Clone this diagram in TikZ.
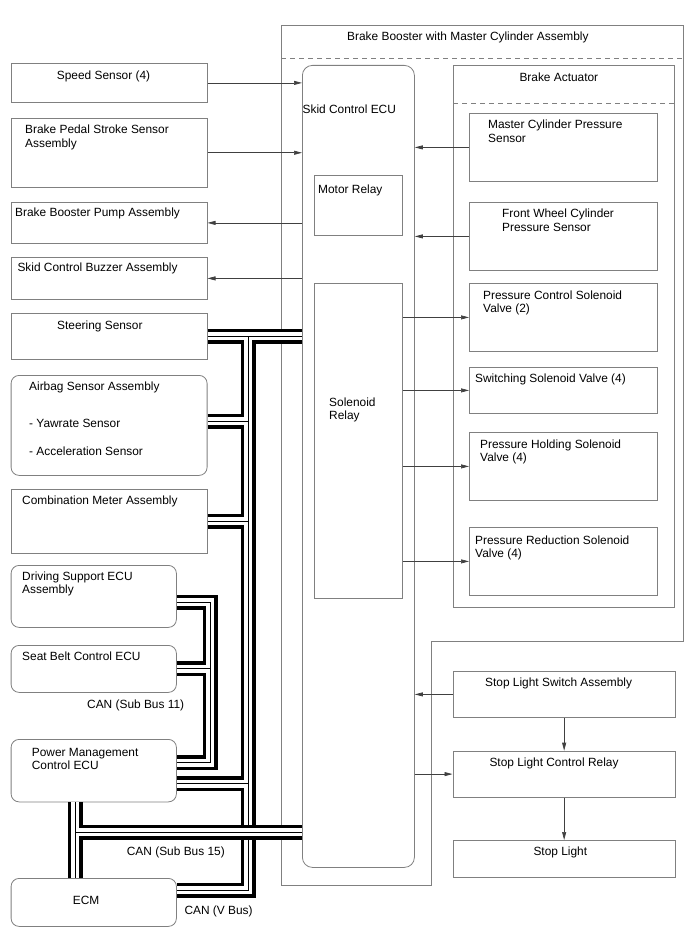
\documentclass[tikz,border=0pt]{standalone}
\usepackage{fontspec}
\setmainfont{Liberation Sans}
\usetikzlibrary{arrows.meta,calc}
\begin{document}
\begin{tikzpicture}[x=1pt,y=-1pt,
  bx/.style={draw=black!50, line width=0.8pt, inner sep=0pt, anchor=north west},
  rbx/.style={bx, rounded corners=8pt},
  txt/.style={inner sep=0pt, anchor=base west, align=left, font=\fontsize{11.9}{13.5}\selectfont},
  txtb/.style={txt, yshift=-13.5pt},
  arr/.style={draw=black!75, line width=0.7pt, -{Triangle[length=8pt,width=4pt]}},
  bus/.style={line width=15pt, draw=black, line join=miter, postaction={draw=white, line width=8pt}, postaction={draw=black, line width=0.9pt}},
  dsh/.style={draw=black!50, line width=0.8pt, dash pattern=on 5pt off 4pt}
]
\fill[white] (0,0) rectangle (688,949);
\useasboundingbox (0,0) rectangle (688,949);

% outer assembly outline
\draw[draw=black!50, line width=0.8pt] (281,25) -- (683,25) -- (683,641) -- (431,641) -- (431,885) -- (281,885) -- cycle;
\draw[dsh] (281,58) -- (683,58);
\node[txt] (tTitle) at (347,40.7) {Brake Booster with Master Cylinder Assembly};

% Skid control ECU
\node[bx, rounded corners=10pt, minimum width=112pt, minimum height=802pt] (ecu) at (302,65) {};
\node[txt] (tEcu) at (302.5,114) {Skid Control ECU};
\node[bx, minimum width=88pt, minimum height=60pt] (motor) at (314,175) {};
\node[txt] (tMotor) at (318,194) {Motor Relay};
\node[bx, minimum width=88pt, minimum height=315pt] (sol) at (314,283) {};
\node[txtb] (tSol) at (329,406) {Solenoid\\Relay};

% Brake actuator
\node[bx, minimum width=221pt, minimum height=542pt] (act) at (453,65) {};
\draw[dsh] (453,103) -- (674,103);
\node[txt] (tAct) at (519.3,81.7) {Brake Actuator};
\node[bx, minimum width=188pt, minimum height=68pt] (mc) at (469,113) {};
\node[txtb] (tMc) at (488,129) {Master Cylinder Pressure\\Sensor};
\node[bx, minimum width=188pt, minimum height=68pt] (fw) at (469,202) {};
\node[txtb] (tFw) at (502,218) {Front Wheel Cylinder\\Pressure Sensor};
\node[bx, minimum width=188pt, minimum height=68pt] (pc) at (469,283) {};
\node[txtb] (tPc) at (483,299) {Pressure Control Solenoid\\Valve (2)};
\node[bx, minimum width=188pt, minimum height=46pt] (sw) at (469,367) {};
\node[txt] (tSw) at (475,382) {Switching Solenoid Valve (4)};
\node[bx, minimum width=188pt, minimum height=68pt] (ph) at (469,432) {};
\node[txtb] (tPh) at (480,448) {Pressure Holding Solenoid\\Valve (4)};
\node[bx, minimum width=188pt, minimum height=68pt] (pr) at (469,527) {};
\node[txtb] (tPr) at (475,544) {Pressure Reduction Solenoid\\Valve (4)};

% Stop light chain
\node[bx, minimum width=222.5pt, minimum height=46.6pt] (sls) at (452.5,670.7) {};
\node[txt] (tSls) at (485,686.7) {Stop Light Switch Assembly};
\node[bx, minimum width=222.5pt, minimum height=46pt] (slr) at (452.5,750.7) {};
\node[txt] (tSlr) at (489.3,766.7) {Stop Light Control Relay};
\node[bx, minimum width=222.5pt, minimum height=36.7pt] (sl) at (452.5,840) {};
\node[txt] (tSl) at (533.3,855) {Stop Light};

% left column
\node[bx, minimum width=196pt, minimum height=39.6pt] (speed) at (10.7,62.7) {};
\node[txt] (tSpeed) at (56.7,79.3) {Speed Sensor (4)};
\node[bx, minimum width=196pt, minimum height=68.7pt] (pedal) at (10.7,118) {};
\node[txtb] (tPedal) at (25,134) {Brake Pedal Stroke Sensor\\Assembly};
\node[bx, minimum width=196pt, minimum height=41pt] (pump) at (10.7,202) {};
\node[txt] (tPump) at (15,216.7) {Brake Booster Pump Assembly};
\node[bx, minimum width=196pt, minimum height=42pt] (buzz) at (10.7,257) {};
\node[txt] (tBuzz) at (17.3,271.7) {Skid Control Buzzer Assembly};
\node[bx, minimum width=196pt, minimum height=46pt] (steer) at (10.7,313) {};
\node[txt] (tSteer) at (57,329) {Steering Sensor};
\node[rbx, minimum width=196pt, minimum height=100pt] (airbag) at (10.7,375) {};
\node[txt] (tAirbag) at (29,390) {Airbag Sensor Assembly};
\node[txt] (tYaw) at (29,427) {- Yawrate Sensor};
\node[txt] (tAcc) at (29,455) {- Acceleration Sensor};
\node[bx, minimum width=196pt, minimum height=64pt] (comb) at (10.7,489) {};
\node[txt] (tComb) at (22,504) {Combination Meter Assembly};
\node[rbx, minimum width=165.3pt, minimum height=62pt] (drive) at (10.7,565) {};
\node[txtb] (tDrive) at (22,580) {Driving Support ECU\\Assembly};
\node[rbx, minimum width=165.3pt, minimum height=47pt] (seat) at (10.7,645) {};
\node[txt] (tSeat) at (22,660) {Seat Belt Control ECU};
\node[rbx, minimum width=165.3pt, minimum height=62.5pt] (pm) at (10.7,739) {};
\node[txtb] (tPm) at (31.7,756) {Power Management\\Control ECU};
\node[rbx, minimum width=165.3pt, minimum height=48pt] (ecm) at (10.7,878) {};
\node[txt] (tEcm) at (72.7,904) {ECM};

% bus labels
\node[txt] (tS11) at (87,708) {CAN (Sub Bus 11)};
\node[txt] (tS15) at (126.7,855) {CAN (Sub Bus 15)};
\node[txt] (tVb) at (184.3,914) {CAN (V Bus)};

% bus reference coordinates
\coordinate (vx) at (248,0);
\coordinate (s11x) at (210,0);
\coordinate (s15x) at (75,0);
\coordinate (s15y) at (0,832);
\coordinate (airbagV) at ([yshift=4pt]airbag.east);
\coordinate (pmV) at ([yshift=-13pt]pm.east);
\coordinate (ecmV) at ([yshift=12pt]ecm.east);
\coordinate (dsV) at ([yshift=-6pt]drive.east);
\coordinate (pm11) at ([yshift=8pt]pm.east);

% V bus
\draw[bus] (steer.east) -- (steer.east -| ecu.west)
  (steer.east -| vx) -- (ecmV -| vx) -- (ecmV)
  (airbagV) -- (airbagV -| vx)
  (comb.east) -- (comb.east -| vx)
  (pmV) -- (pmV -| vx);
% Sub bus 11
\draw[bus] (dsV) -- (dsV -| s11x) -- (pm11 -| s11x) -- (pm11)
  (seat.east) -- (seat.east -| s11x);
% Sub bus 15
\draw[bus] (pm.south -| s15x) -- (ecm.north -| s15x)
  (s15x |- s15y) -- (s15y -| ecu.west);

% arrows
\draw[arr] (speed.east) -- (speed.east -| ecu.west);
\draw[arr] (pedal.east) -- (pedal.east -| ecu.west);
\draw[arr] (pump.east -| ecu.west) -- (pump.east);
\draw[arr] (buzz.east -| ecu.west) -- (buzz.east);
\draw[arr] (mc.west) -- (mc.west -| ecu.east);
\draw[arr] (fw.west) -- (fw.west -| ecu.east);
\draw[arr] (pc.west -| sol.east) -- (pc.west);
\draw[arr] (sw.west -| sol.east) -- (sw.west);
\draw[arr] (ph.west -| sol.east) -- (ph.west);
\draw[arr] (pr.west -| sol.east) -- (pr.west);
\draw[arr] (sls.west) -- (sls.west -| ecu.east);
\draw[arr] (slr.west -| ecu.east) -- (slr.west);
\draw[arr] (sls.south) -- (slr.north);
\draw[arr] (slr.south) -- (sl.north);
\end{tikzpicture}
\end{document}
